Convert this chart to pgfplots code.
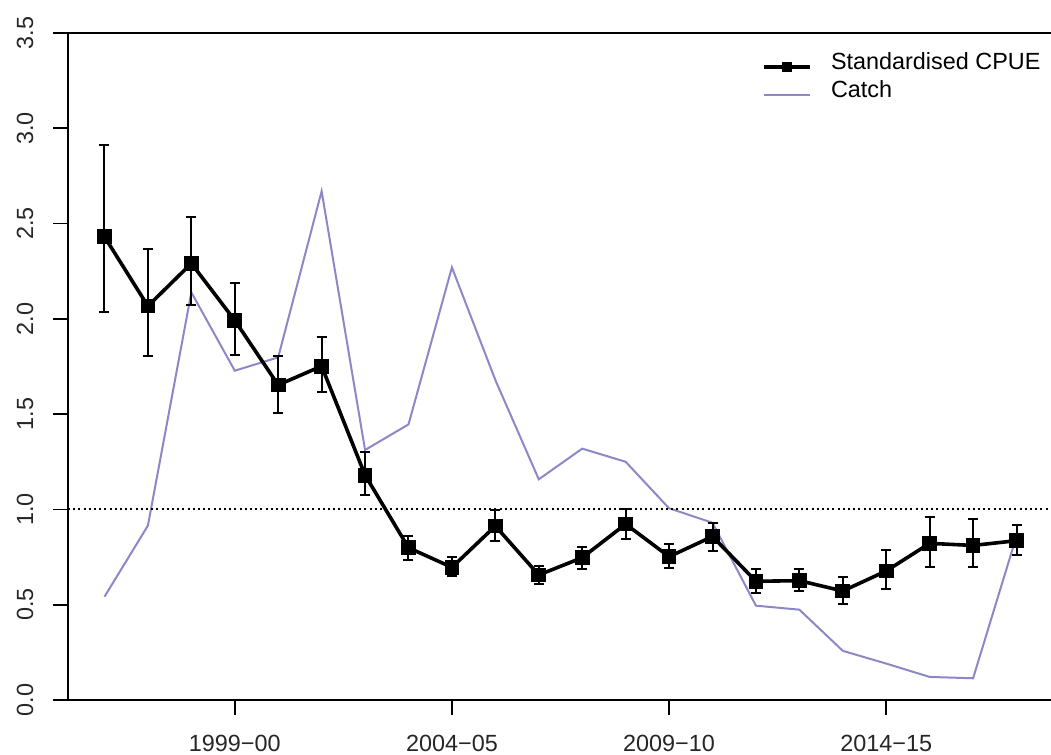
\documentclass[border=0pt]{standalone}
\usepackage{fontspec}
\setmainfont{Liberation Sans}
\usepackage{pgfplots}
\pgfplotsset{compat=1.18}
\usepackage{pgfplotstable}
\definecolor{catchcol}{RGB}{140,136,200}

\pgfplotstableread{
year cpue ep em
1996 2.431 0.481 0.395
1997 2.067 0.298 0.262
1998 2.291 0.241 0.219
1999 1.992 0.194 0.182
2000 1.653 0.152 0.149
2001 1.752 0.154 0.138
2002 1.180 0.120 0.104
2003 0.799 0.063 0.066
2004 0.696 0.054 0.046
2005 0.913 0.084 0.080
2006 0.656 0.045 0.047
2007 0.747 0.054 0.058
2008 0.923 0.081 0.080
2009 0.752 0.065 0.058
2010 0.858 0.072 0.075
2011 0.623 0.066 0.060
2012 0.626 0.060 0.053
2013 0.572 0.072 0.070
2014 0.677 0.110 0.096
2015 0.822 0.140 0.126
2016 0.811 0.137 0.115
2017 0.836 0.084 0.074
}\cpuetab

\pgfplotstableread{
year catch
1996 0.542
1997 0.915
1998 2.139
1999 1.728
2000 1.798
2001 2.670
2002 1.312
2003 1.446
2004 2.270
2005 1.679
2006 1.158
2007 1.319
2008 1.250
2009 1.006
2010 0.930
2011 0.495
2012 0.474
2013 0.258
2014 0.191
2015 0.121
2016 0.114
2017 0.860
}\catchtab

\begin{document}
\begin{tikzpicture}
\useasboundingbox (0,0) rectangle (525.5pt,377.5pt);
\begin{axis}[
  at={(34pt,27.5pt)}, anchor=south west,
  scale only axis, width=492.5pt, height=333.5pt,
  xmin=1995.16, xmax=2017.84, ymin=0, ymax=3.5,
  axis line style={line width=0.9pt},
  /pgf/number format/assume math mode=true,
  xtick={1999,2004,2009,2014},
  xticklabels={1999−00,2004−05,2009−10,2014−15},
  ytick={0,0.5,1,1.5,2,2.5,3,3.5},
  yticklabel={\pgfmathprintnumber[fixed,fixed zerofill,precision=1]{\tick}},
  tick align=outside, major tick length=7.5pt,
  tick style={line width=0.9pt, black},
  xtick pos=bottom, ytick pos=left,
  tick label style={font=\fontsize{11.7pt}{14pt}\selectfont, text=black!85},
  yticklabel style={rotate=90, anchor=base},
  yticklabel shift=10pt,
  xticklabel style={anchor=base},
  xticklabel shift=18.5pt,
  legend cell align=left,
  legend style={draw=none, fill=none, at={(0.7046,0.971)}, anchor=north west,
    font=\fontsize{11.7pt}{14pt}\selectfont, inner sep=0pt, row sep=0pt,
    nodes={inner sep=0pt, text height=8.5pt, text depth=5.5pt},
    /tikz/every odd column/.append style={column sep=9.5pt}},
]
\addlegendimage{legend image code/.code={\draw[black, line width=1.8pt] (0pt,0pt) -- (23pt,0pt); \fill[black] (9.25pt,-2.25pt) rectangle (13.75pt,2.25pt);}}
\addlegendentry{Standardised CPUE}
\addlegendimage{legend image code/.code={\draw[catchcol, line width=1pt] (0pt,0pt) -- (23pt,0pt);}}
\addlegendentry{Catch}
\addplot[color=catchcol, line width=1pt, forget plot] table[x=year, y=catch] {\catchtab};
\draw[line width=1pt, dash pattern=on 1pt off 1.6pt] (axis cs:1995.16,1) -- (axis cs:2017.84,1);
\addplot[black, line width=1.8pt, mark=square*, mark size=2.8pt, forget plot,
  error bars/.cd, y dir=both, y explicit,
  error bar style={line width=1pt},
  error mark options={rotate=90, mark size=2.5pt, line width=1pt}]
  table[x=year, y=cpue, y error plus=ep, y error minus=em] {\cpuetab};
\end{axis}
\end{tikzpicture}
\end{document}
